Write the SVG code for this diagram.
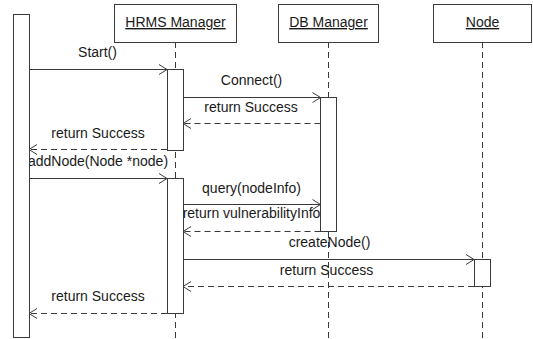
<svg xmlns="http://www.w3.org/2000/svg" width="533" height="339" viewBox="0 0 533 339">
  <style>
    text { font-family: "Liberation Sans", Arial, sans-serif; font-size: 14px; fill: #1a1a1a; }
    .mid { text-anchor: middle; }
    .title { text-decoration: underline; }
    .box { fill: #ffffff; stroke: #3a3a3a; stroke-width: 1; }
    .life { stroke: #3a3a3a; stroke-width: 1; stroke-dasharray: 6 4; fill: none; }
    .call { stroke: #3a3a3a; stroke-width: 1; fill: none; marker-end: url(#open); }
    .ret { stroke: #3a3a3a; stroke-width: 1; fill: none; stroke-dasharray: 6 4; marker-end: url(#open); }
  </style>
  <defs>
    <marker id="open" markerUnits="userSpaceOnUse" markerWidth="12" markerHeight="12" refX="10" refY="6" orient="auto">
      <path d="M2,1 L10,6 L2,11" fill="none" stroke="#3a3a3a" stroke-width="1"/>
    </marker>
  </defs>

  <rect width="533" height="339" fill="#ffffff"/>

  <!-- lifelines -->
  <g id="lifelines">
    <line class="life" x1="175.5" y1="42" x2="175.5" y2="339"/>
    <line class="life" x1="328.5" y1="42" x2="328.5" y2="339"/>
    <line class="life" x1="482.5" y1="42" x2="482.5" y2="339"/>
  </g>

  <!-- message labels -->
  <g id="labels">
    <text class="mid" x="97.5" y="57">Start()</text>
    <text class="mid" x="251.5" y="85">Connect()</text>
    <text class="mid" x="251" y="112">return Success</text>
    <text class="mid" x="98" y="138">return Success</text>
    <text class="mid" x="98" y="166">addNode(Node *node)</text>
    <text class="mid" x="251.5" y="193">query(nodeInfo)</text>
    <text class="mid" x="251.5" y="218">return vulnerabilityInfo</text>
    <text class="mid" x="329.5" y="247">createNode()</text>
    <text class="mid" x="326.5" y="275">return Success</text>
    <text class="mid" x="98" y="301">return Success</text>
  </g>

  <!-- connectors -->
  <g id="connectors">
    <line class="call" x1="29" y1="69.5" x2="167" y2="69.5"/>
    <line class="call" x1="183" y1="97.5" x2="320.5" y2="97.5"/>
    <line class="ret" x1="320.5" y1="123.5" x2="183" y2="123.5"/>
    <line class="ret" x1="167" y1="149.5" x2="29" y2="149.5"/>
    <line class="call" x1="29" y1="178.5" x2="167" y2="178.5"/>
    <line class="call" x1="183" y1="204.5" x2="320.5" y2="204.5"/>
    <line class="ret" x1="320.5" y1="231.5" x2="183" y2="231.5"/>
    <line class="call" x1="183" y1="259.5" x2="474" y2="259.5"/>
    <line class="ret" x1="474" y1="286.5" x2="183" y2="286.5"/>
    <line class="ret" x1="167" y1="313.5" x2="29" y2="313.5"/>
  </g>

  <!-- caller (unnamed, left) -->
  <g id="caller">
    <rect class="box" x="13.5" y="14.5" width="16" height="323"/>
  </g>

  <g id="hrms-manager">
    <rect class="box" x="114.5" y="4.5" width="122" height="38"/>
    <text class="mid title" x="175.5" y="27">HRMS Manager</text>
    <rect class="box" x="167.5" y="69.5" width="16" height="81"/>
    <rect class="box" x="167.5" y="178.5" width="16" height="135"/>
  </g>

  <g id="db-manager">
    <rect class="box" x="278.5" y="4.5" width="100" height="38"/>
    <text class="mid title" x="328.5" y="27">DB Manager</text>
    <rect class="box" x="320.5" y="97.5" width="16" height="134"/>
  </g>

  <g id="node">
    <rect class="box" x="433.5" y="4.5" width="98" height="38"/>
    <text class="mid title" x="482.5" y="27">Node</text>
    <rect class="box" x="474.5" y="259.5" width="16" height="27"/>
  </g>
</svg>
